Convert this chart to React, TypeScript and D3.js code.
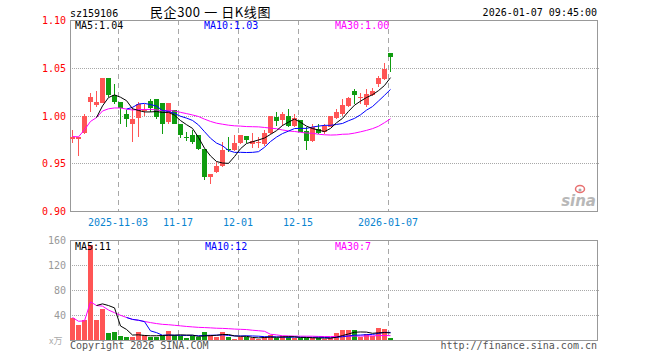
import React from 'react';
import * as d3 from 'd3';

// ---- data ----
const openP = [
  0.976, 0.9757, 0.982, 1.0145, 1.0117, 1.0134, 1.0396, 1.0215, 1.0145, 1.0016,
  0.992, 0.998, 1.005, 1.0155, 1.018, 1.0134, 0.9935, 1.0058, 0.992, 0.9785,
  0.9796, 0.9806, 0.9656, 0.936, 0.941, 0.948, 0.9656, 0.9639, 0.9716, 0.9793,
  0.9709, 0.9724, 0.9709, 0.982, 0.9988, 0.9953, 0.9995, 0.99, 0.9953, 0.9848,
  0.9736, 0.9866, 0.983, 0.989, 0.998, 1.0016, 1.01, 1.026, 1.019, 1.011,
  1.0215, 1.033, 1.039, 1.0658,
];
const closeP = [
  0.9785, 0.9778, 1.0005, 1.0204, 1.0145, 1.0396, 1.0215, 1.0145, 1.0082, 0.9967,
  0.997, 1.0127, 1.0067, 1.0082, 0.9988, 0.992, 1.0134, 0.992, 0.98, 0.9772,
  0.9726, 0.9656, 0.936, 0.9395, 0.948, 0.9646, 0.9639, 0.9716, 0.9806, 0.9751,
  0.9743, 0.9728, 0.982, 0.9995, 0.9946, 1.0016, 0.99, 0.998, 0.983, 0.9743,
  0.989, 0.982, 0.99, 0.9995, 1.004, 1.012, 1.0186, 1.0225, 1.0204, 1.0232,
  1.0267, 1.04, 1.0494, 1.0616,
];
const highP = [
  0.9855, 0.978, 1.002, 1.024, 1.0257, 1.0396, 1.0396, 1.033, 1.0145, 1.0058,
  1.009, 1.0145, 1.0127, 1.018, 1.018, 1.0134, 1.0134, 1.0065, 0.992, 0.983,
  0.985, 0.9806, 0.9656, 0.9395, 0.952, 0.9726, 0.9785, 0.9806, 0.9806, 0.9793,
  0.982, 0.978, 0.9855, 0.9995, 1.004, 1.004, 1.0075, 1.002, 0.9953, 0.9883,
  0.992, 0.9918, 0.992, 1.0005, 1.0075, 1.018, 1.0196, 1.0285, 1.0243, 1.0285,
  1.0295, 1.042, 1.0553, 1.0658,
];
const lowP = [
  0.9716, 0.958, 0.981, 1.004, 1.009, 1.0134, 1.0197, 1.0127, 0.992, 0.988,
  0.973, 0.9785, 1.0005, 1.004, 0.997, 0.981, 0.992, 0.9915, 0.977, 0.974,
  0.971, 0.9646, 0.933, 0.929, 0.94, 0.947, 0.962, 0.963, 0.971, 0.9716,
  0.9667, 0.9667, 0.969, 0.981, 0.99, 0.99, 0.989, 0.989, 0.983, 0.9646,
  0.9725, 0.9813, 0.981, 0.988, 0.997, 1.0005, 1.009, 1.0128, 1.0128, 1.0093,
  1.0205, 1.03, 1.038, 1.046,
];
const volume = [
  36, 24, 32, 152, 32, 49, 10.7, 13.4, 7, 4.3,
  4.3, 12.3, 8.6, 4.3, 4.3, 6.5, 15, 8.6, 6.5, 2.7,
  6, 5.4, 12.3, 8.6, 5.4, 12.3, 5.4, 1.1, 5.4, 5.4,
  3.3, 1.7, 4.3, 8.6, 3.3, 6.5, 4.3, 3.3, 3.3, 3.3,
  3.3, 3.3, 1.7, 3.3, 10.7, 16.6, 16, 15.5, 5.4, 9.7,
  7, 19.8, 17.7, 2.7,
];
const dateTickIdx = [8, 18, 28, 38, 53];
const dateTickLabels = ['2025-11-03', '11-17', '12-01', '12-15', '2026-01-07'];
const priceTicks = [0.9, 0.95, 1.0, 1.05, 1.1];
const volTicks = [40, 80, 120, 160];

const UP = '#ff5555';
const DOWN = '#109c10';
const GRID = '#a8a8a8';
const FRAME = '#999999';
const MONO = "'DejaVu Sans Mono', monospace";

function movingAvg(arr: number[], n: number, cumulative: boolean) {
  return arr.map((_, i) => {
    if (!cumulative && i < n - 1) return null;
    const s = Math.max(0, i - n + 1);
    return d3.mean(arr.slice(s, i + 1)) as number;
  });
}

const L = 70, R = 597;
const PT = 20, PB = 211;
const VT = 240, VB = 340;

export default function App() {
  const n = closeP.length;
  const x = d3.scaleLinear().domain([0, 53]).range([70, 388]);
  const xc = (i: number) => x(i) + 2.5;
  const yP = d3.scaleLinear().domain([0.9, 1.1]).range([PB + 0.5, PT + 0.5]);
  const yV = d3.scaleLinear().domain([0, 160]).range([VB, VT]);

  const ma5 = movingAvg(closeP, 5, false);
  const ma10 = movingAvg(closeP, 10, false);
  const ma30 = movingAvg(closeP, 30, true);
  const vma5 = movingAvg(volume, 5, false);
  const vma10 = movingAvg(volume, 10, false);
  const vma30 = movingAvg(volume, 30, true);

  const lineP = d3.line<number | null>()
    .defined((d) => d !== null)
    .x((_, i) => xc(i))
    .y((d) => yP(d as number));
  const lineV = d3.line<number | null>()
    .defined((d) => d !== null)
    .x((_, i) => xc(i))
    .y((d) => yV(d as number));

  const crisp = (v: number) => Math.floor(v) + 0.5;

  return (
    <svg
      width={660}
      height={360}
      style={{ position: 'absolute', left: 0, top: 0, background: '#fff' }}
      fontFamily={MONO}
      fontSize={10}
    >
      <rect x={0} y={0} width={660} height={360} fill="#fff" />
      {/* header */}
      <text x={70} y={17} fill="#000">sz159106</text>
      <text x={150} y={17} fill="#000" fontSize={13} letterSpacing={0.6}
        fontFamily="'Noto Sans CJK SC', sans-serif" style={{ whiteSpace: 'pre' }}>民企300 一 日K线图</text>
      <text x={597} y={16} fill="#000" textAnchor="end">2026-01-07 09:45:00</text>

      {/* ===== price panel ===== */}
      {priceTicks.slice(1, 4).map((t) => (
        <line key={'pg' + t} x1={L} x2={R + 2} y1={crisp(yP(t))} y2={crisp(yP(t))}
          stroke={GRID} strokeDasharray="1,1" />
      ))}
      {dateTickIdx.map((i) => (
        <line key={'pv' + i} x1={crisp(x(i))} x2={crisp(x(i))} y1={PT} y2={PB}
          stroke={GRID} strokeDasharray="5,4" />
      ))}
      <rect x={L + 0.5} y={PT + 0.5} width={R - L} height={PB - PT} fill="none" stroke={FRAME} />
      {priceTicks.map((t) => (
        <text key={'pl' + t} x={66} y={yP(t) + 3.5} fill="#f00" textAnchor="end">{t.toFixed(2)}</text>
      ))}
      {dateTickIdx.map((i, k) => (
        <text key={'dl' + i} x={x(i)} y={226} fill="#0a84d0" textAnchor="middle">{dateTickLabels[k]}</text>
      ))}

      {/* candles */}
      <g shapeRendering="crispEdges">
        {closeP.map((c, i) => {
          const o = openP[i];
          const col = c >= o ? UP : DOWN;
          const top = yP(Math.max(o, c));
          const bot = yP(Math.min(o, c));
          return (
            <g key={'c' + i}>
              <rect x={x(i) + 2} y={yP(highP[i])} width={1} height={Math.max(1, yP(lowP[i]) - yP(highP[i]))} fill={col} />
              <rect x={x(i)} y={top} width={5} height={Math.max(1, bot - top)} fill={col} />
            </g>
          );
        })}
      </g>
      <path d={lineP(ma30) || ''} fill="none" stroke="#ff00ff" strokeWidth={1} />
      <path d={lineP(ma10) || ''} fill="none" stroke="#0000ff" strokeWidth={1} />
      <path d={lineP(ma5) || ''} fill="none" stroke="#000" strokeWidth={1} />

      {/* watermark */}
      <g>
        <ellipse cx={580} cy={189} rx={4.5} ry={3.5} fill="none" stroke="#e87070" strokeWidth={1.5} />
        <circle cx={580} cy={190} r={1.5} fill="#aaa" />
        <text x={596} y={206} fill="#b8b8b8" fontSize={15} fontWeight="bold" fontStyle="italic"
          textAnchor="end" fontFamily="'DejaVu Sans', sans-serif">sina</text>
      </g>

      {/* legends */}
      <text x={75} y={29} fill="#000">MA5:{(ma5[n - 1] as number).toFixed(2)}</text>
      <text x={204} y={29} fill="#0000ff">MA10:{(ma10[n - 1] as number).toFixed(2)}</text>
      <text x={335} y={29} fill="#ff00ff">MA30:{(ma30[n - 1] as number).toFixed(2)}</text>

      {/* ===== volume panel ===== */}
      {volTicks.slice(0, 3).map((t) => (
        <line key={'vg' + t} x1={L} x2={R + 2} y1={crisp(yV(t))} y2={crisp(yV(t))}
          stroke={GRID} strokeDasharray="1,1" />
      ))}
      {dateTickIdx.map((i) => (
        <line key={'vv' + i} x1={crisp(x(i))} x2={crisp(x(i))} y1={VT} y2={VB}
          stroke={GRID} strokeDasharray="5,4" />
      ))}
      <rect x={L + 0.5} y={VT + 0.5} width={R - L} height={VB - VT} fill="none" stroke={FRAME} />
      {volTicks.map((t) => (
        <text key={'vl' + t} x={66} y={yV(t) + 3.5} fill="#999" textAnchor="end">{t}</text>
      ))}
      <text x={49} y={344} fill="#aaa" fontSize={9} fontFamily="'Noto Sans CJK SC', sans-serif">x万</text>

      <g shapeRendering="crispEdges">
        {volume.map((v, i) => (
          <rect key={'v' + i} x={x(i)} y={yV(v)} width={5} height={VB - yV(v)}
            fill={closeP[i] >= openP[i] ? UP : DOWN} />
        ))}
      </g>
      <path d={lineV(vma30) || ''} fill="none" stroke="#ff00ff" strokeWidth={1} />
      <path d={lineV(vma10) || ''} fill="none" stroke="#0000ff" strokeWidth={1} />
      <path d={lineV(vma5) || ''} fill="none" stroke="#000" strokeWidth={1} />

      <text x={75} y={250} fill="#000">MA5:{Math.round(vma5[n - 1] as number)}</text>
      <text x={205} y={250} fill="#0000ff">MA10:{Math.round(vma10[n - 1] as number)}</text>
      <text x={335} y={250} fill="#ff00ff">MA30:{Math.round(vma30[n - 1] as number)}</text>

      {/* footer */}
      <text x={70} y={349} fill="#555">Copyright 2026 SINA.COM</text>
      <text x={597} y={349} fill="#555" textAnchor="end">http://finance.sina.com.cn</text>
    </svg>
  );
}
